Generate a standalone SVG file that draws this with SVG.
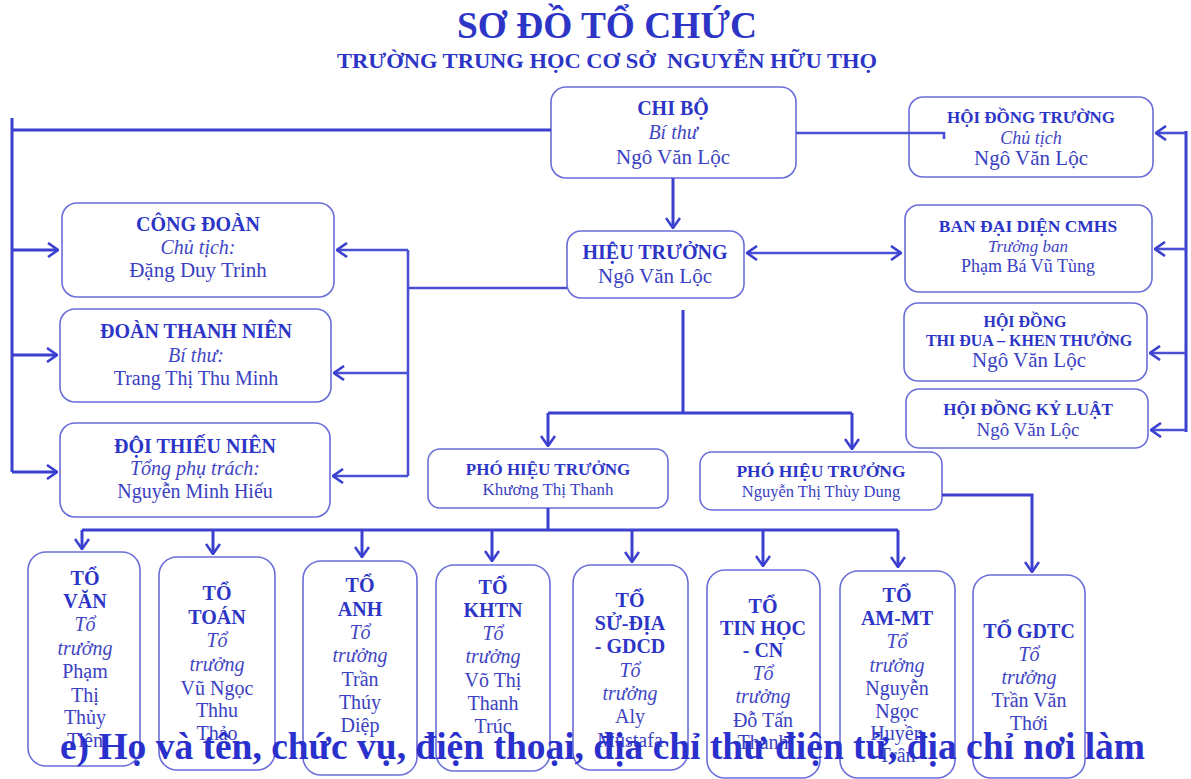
<svg xmlns="http://www.w3.org/2000/svg" width="1191" height="779" viewBox="0 0 1191 779">
<style>
text{font-family:"Liberation Serif","Times New Roman",serif;text-anchor:middle}
.box{fill:#fff;stroke:#6a6ed8;stroke-width:1.6}
.h{font-weight:bold;fill:#2c35c6}
.i{font-style:italic;fill:#3f46c4}
.n{fill:#3a41c2}
.ln{stroke:#3b40cf;stroke-width:3;fill:none}
.lt{stroke:#4a50d4;stroke-width:2.6;fill:none}
.t20 text{font-size:20px}
</style>
<defs>
<marker id="ah" viewBox="0 0 12 16" refX="11" refY="8" markerWidth="12" markerHeight="16" markerUnits="userSpaceOnUse" orient="auto-start-reverse">
<path d="M1,1 L11,8 L1,15" fill="none" stroke="#3b40cf" stroke-width="2.6"/>
</marker>
</defs>
<rect width="1191" height="779" fill="#fff"/>

<g id="title">
<text x="607" y="38" class="h" style="font-size:37px" textLength="300" lengthAdjust="spacingAndGlyphs">SƠ ĐỒ TỔ CHỨC</text>
<text x="607" y="68" class="h" style="font-size:21px" textLength="540" lengthAdjust="spacingAndGlyphs">TRƯỜNG TRUNG HỌC CƠ SỞ&#160; NGUYỄN HỮU THỌ</text>
</g>

<g id="chibo">
<rect class="box" x="551" y="87" width="245" height="91" rx="15"/>
<text x="673" y="115" class="h" style="font-size:20px">CHI BỘ</text>
<text x="673" y="139" class="i" style="font-size:20px">Bí thư</text>
<text x="673" y="164" class="n" style="font-size:21px">Ngô Văn Lộc</text>
</g>
<g id="hoidongtruong">
<rect class="box" x="909" y="97" width="244" height="80" rx="14"/>
<text x="1031" y="123" class="h" style="font-size:17px">HỘI ĐỒNG TRƯỜNG</text>
<text x="1031" y="144" class="i" style="font-size:18px">Chủ tịch</text>
<text x="1031" y="165" class="n" style="font-size:21px">Ngô Văn Lộc</text>
</g>
<g id="congdoan">
<rect class="box" x="62" y="203" width="272" height="94" rx="15"/>
<text x="198" y="231" class="h" style="font-size:20px">CÔNG ĐOÀN</text>
<text x="198" y="254" class="i" style="font-size:20px">Chủ tịch:</text>
<text x="198" y="277" class="n" style="font-size:21px">Đặng Duy Trinh</text>
</g>
<g id="hieutruong">
<rect class="box" x="567" y="231" width="177" height="67" rx="14"/>
<text x="655" y="259" class="h" style="font-size:20px">HIỆU TRƯỞNG</text>
<text x="655" y="283" class="n" style="font-size:21px">Ngô Văn Lộc</text>
</g>
<g id="bandaidien">
<rect class="box" x="905" y="205" width="247" height="87" rx="14"/>
<text x="1028" y="232" class="h" style="font-size:17.5px">BAN ĐẠI DIỆN CMHS</text>
<text x="1028" y="252" class="i" style="font-size:17px">Trưởng ban</text>
<text x="1028" y="272" class="n" style="font-size:18px">Phạm Bá Vũ Tùng</text>
</g>
<g id="doanthanhnien">
<rect class="box" x="60" y="309" width="271" height="93" rx="15"/>
<text x="196" y="338" class="h" style="font-size:20px">ĐOÀN THANH NIÊN</text>
<text x="196" y="362" class="i" style="font-size:20px">Bí thư:</text>
<text x="196" y="385" class="n" style="font-size:20px">Trang Thị Thu Minh</text>
</g>
<g id="hoidongthidua">
<rect class="box" x="904" y="303" width="243" height="78" rx="14"/>
<text x="1025" y="327" class="h" style="font-size:16px">HỘI ĐỒNG</text>
<text x="1029" y="346" class="h" style="font-size:16px">THI ĐUA – KHEN THƯỞNG</text>
<text x="1029" y="367" class="n" style="font-size:21px">Ngô Văn Lộc</text>
</g>
<g id="hoidongkyluat">
<rect class="box" x="906" y="389" width="242" height="59" rx="13"/>
<text x="1028" y="415" class="h" style="font-size:17px">HỘI ĐỒNG KỶ LUẬT</text>
<text x="1028" y="436" class="n" style="font-size:19px">Ngô Văn Lộc</text>
</g>
<g id="doithieunien">
<rect class="box" x="60" y="423" width="270" height="94" rx="15"/>
<text x="195" y="453" class="h" style="font-size:20px">ĐỘI THIẾU NIÊN</text>
<text x="195" y="475" class="i" style="font-size:20px">Tổng phụ trách:</text>
<text x="195" y="498" class="n" style="font-size:20px">Nguyễn Minh Hiếu</text>
</g>
<g id="pht1">
<rect class="box" x="428" y="449" width="240" height="59" rx="12"/>
<text x="548" y="475" class="h" style="font-size:17px">PHÓ HIỆU TRƯỞNG</text>
<text x="548" y="495" class="n" style="font-size:17px">Khương Thị Thanh</text>
</g>
<g id="pht2">
<rect class="box" x="700" y="452" width="242" height="58" rx="12"/>
<text x="821" y="477" class="h" style="font-size:17.5px">PHÓ HIỆU TRƯỞNG</text>
<text x="821" y="497" class="n" style="font-size:16.5px">Nguyễn Thị Thùy Dung</text>
</g>

<g id="tovan" class="t20">
<rect class="box" x="28" y="552" width="112" height="214" rx="18"/>
<text x="85" y="585" class="h">TỔ</text>
<text x="85" y="608" class="h">VĂN</text>
<text x="85" y="631" class="i">Tổ</text>
<text x="85" y="655" class="i">trưởng</text>
<text x="85" y="678" class="n">Phạm</text>
<text x="85" y="702" class="n">Thị</text>
<text x="85" y="724" class="n">Thủy</text>
<text x="85" y="747" class="n">Tiên</text>
</g>
<g id="totoan" class="t20">
<rect class="box" x="159" y="557" width="116" height="213" rx="18"/>
<text x="217" y="600" class="h">TỔ</text>
<text x="217" y="624" class="h">TOÁN</text>
<text x="217" y="647" class="i">Tổ</text>
<text x="217" y="671" class="i">trưởng</text>
<text x="217" y="695" class="n">Vũ Ngọc</text>
<text x="217" y="717" class="n">Thhu</text>
<text x="217" y="740" class="n">Thảo</text>
</g>
<g id="toanh" class="t20">
<rect class="box" x="303" y="561" width="114" height="214" rx="18"/>
<text x="360" y="592" class="h">TỔ</text>
<text x="360" y="616" class="h">ANH</text>
<text x="360" y="639" class="i">Tổ</text>
<text x="360" y="662" class="i">trưởng</text>
<text x="360" y="686" class="n">Trần</text>
<text x="360" y="709" class="n">Thúy</text>
<text x="360" y="732" class="n">Diệp</text>
</g>
<g id="tokhtn" class="t20">
<rect class="box" x="436" y="565" width="114" height="206" rx="18"/>
<text x="493" y="594" class="h">TỔ</text>
<text x="493" y="617" class="h">KHTN</text>
<text x="493" y="640" class="i">Tổ</text>
<text x="493" y="663" class="i">trưởng</text>
<text x="493" y="687" class="n">Võ Thị</text>
<text x="493" y="710" class="n">Thanh</text>
<text x="493" y="733" class="n">Trúc</text>
</g>
<g id="tosudia" class="t20">
<rect class="box" x="573" y="565" width="115" height="205" rx="18"/>
<text x="630" y="607" class="h">TỔ</text>
<text x="630" y="630" class="h">SỬ-ĐỊA</text>
<text x="630" y="653" class="h">- GDCD</text>
<text x="630" y="677" class="i">Tổ</text>
<text x="630" y="700" class="i">trưởng</text>
<text x="630" y="723" class="n">Aly</text>
<text x="630" y="747" class="n">Mustafa</text>
</g>
<g id="totinhoc" class="t20">
<rect class="box" x="707" y="570" width="113" height="208" rx="18"/>
<text x="763" y="613" class="h">TỔ</text>
<text x="763" y="635" class="h">TIN HỌC</text>
<text x="763" y="657" class="h">- CN</text>
<text x="763" y="680" class="i">Tổ</text>
<text x="763" y="703" class="i">trưởng</text>
<text x="763" y="727" class="n">Đỗ Tấn</text>
<text x="763" y="749" class="n">Thanh</text>
</g>
<g id="toammt" class="t20">
<rect class="box" x="840" y="571" width="115" height="207" rx="18"/>
<text x="897" y="602" class="h">TỔ</text>
<text x="897" y="625" class="h">AM-MT</text>
<text x="897" y="648" class="i">Tổ</text>
<text x="897" y="672" class="i">trưởng</text>
<text x="897" y="695" class="n">Nguyễn</text>
<text x="897" y="718" class="n">Ngọc</text>
<text x="897" y="740" class="n">Huyền</text>
<text x="897" y="762" class="n">Trân</text>
</g>
<g id="togdtc" class="t20">
<rect class="box" x="973" y="575" width="112" height="203" rx="18"/>
<text x="1029" y="638" class="h">TỔ GDTC</text>
<text x="1029" y="661" class="i">Tổ</text>
<text x="1029" y="684" class="i">trưởng</text>
<text x="1029" y="707" class="n">Trần Văn</text>
<text x="1029" y="730" class="n">Thới</text>
</g>

<g id="connectors">
<path class="ln" d="M551,130 H12 M12,118 V472"/>
<path class="ln" d="M12,250 H58" marker-end="url(#ah)"/>
<path class="ln" d="M12,355 H57" marker-end="url(#ah)"/>
<path class="ln" d="M12,472 H57" marker-end="url(#ah)"/>
<path class="ln" d="M673,178 V228" marker-end="url(#ah)"/>
<path class="lt" d="M796,133 H944 V139"/>
<path class="lt" d="M747,253 H901" marker-start="url(#ah)" marker-end="url(#ah)"/>
<path class="lt" d="M567,288 H408 M408,250 V476"/>
<path class="lt" d="M408,250 H337" marker-end="url(#ah)"/>
<path class="lt" d="M408,373 H334" marker-end="url(#ah)"/>
<path class="lt" d="M408,476 H333" marker-end="url(#ah)"/>
<path class="ln" d="M1186,131 V432"/>
<path class="lt" d="M1186,133 H1156" marker-end="url(#ah)"/>
<path class="lt" d="M1186,249 H1155" marker-end="url(#ah)"/>
<path class="lt" d="M1186,353 H1150" marker-end="url(#ah)"/>
<path class="lt" d="M1186,430 H1151" marker-end="url(#ah)"/>
<path class="ln" d="M683,310 V413 M548,413 H852"/>
<path class="ln" d="M548,413 V446" marker-end="url(#ah)"/>
<path class="ln" d="M852,413 V449" marker-end="url(#ah)"/>
<path class="ln" d="M548,508 V530 M82,530 H898"/>
<path class="ln" d="M82,530 V549" marker-end="url(#ah)"/>
<path class="ln" d="M213,530 V554" marker-end="url(#ah)"/>
<path class="ln" d="M362,530 V557" marker-end="url(#ah)"/>
<path class="ln" d="M492,530 V561" marker-end="url(#ah)"/>
<path class="ln" d="M632,530 V562" marker-end="url(#ah)"/>
<path class="ln" d="M763,530 V566" marker-end="url(#ah)"/>
<path class="ln" d="M898,530 V567" marker-end="url(#ah)"/>
<path class="ln" d="M942,495 H1032 V572" marker-end="url(#ah)"/>
</g>

<g id="overlay">
<text x="60" y="759" style="font-size:37px;font-weight:bold;text-anchor:start;fill:#2a30cc" textLength="1085" lengthAdjust="spacingAndGlyphs">e) Họ và tên, chức vụ, điện thoại, địa chỉ thư điện tử, địa chỉ nơi làm</text>
</g>
</svg>
